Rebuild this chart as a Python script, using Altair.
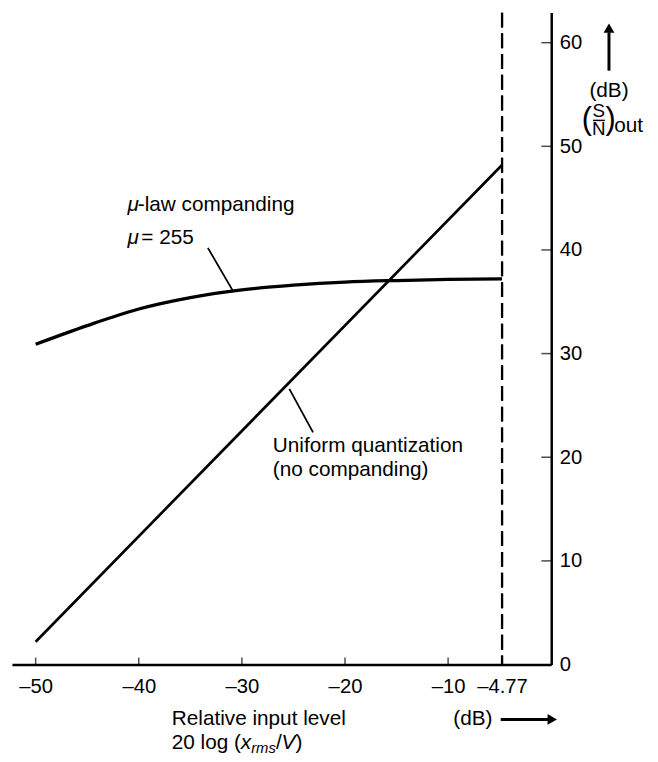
import altair as alt
import pandas as pd

# ---------------- data ----------------
x_tick_values = [-50, -40, -30, -20, -10, -4.77]
x_tick_marks = [-50, -40, -30, -20, -10]
y_tick_values = [0, 10, 20, 30, 40, 50, 60]
y_tick_marks = [10, 20, 30, 40, 50, 60]

uniform_x = [-50, -4.77]
uniform_y = [2.2, 48.2]

mulaw_x = [-50, -45, -40, -35, -30, -25, -20, -15, -10, -4.77]
mulaw_y = [30.9, 32.7, 34.3, 35.4, 36.15, 36.6, 36.9, 37.05, 37.15, 37.2]

peak_level = -4.77

X_DOMAIN = [-52.3, 0]
Y_DOMAIN = [0, 62.9]

FONT = "Liberation Sans"
FS = 20.5   # tick labels
TS = 21     # annotation text

# ---------------- scales / axes ----------------
xs = alt.Scale(domain=X_DOMAIN, nice=False, zero=False)
ys = alt.Scale(domain=Y_DOMAIN, nice=False, zero=False)

x_axis = alt.Axis(
    values=x_tick_values, ticks=False, grid=False, title=None,
    domain=True, domainColor="black", domainWidth=2.5,
    labelFont=FONT, labelFontSize=FS, labelColor="black", labelPadding=12,
    labelFlush=False, labelOverlap=False,
    labelExpr="datum.value < 0 ? '\u2013' + format(-datum.value, '.3~f') : format(datum.value, '.3~f')",
)
y_axis = alt.Axis(
    orient="right", values=y_tick_values, ticks=False, grid=False, title=None,
    domain=True, domainColor="black", domainWidth=2.5,
    labelFont=FONT, labelFontSize=FS, labelColor="black", labelPadding=8,
    labelFlush=False, labelOverlap=False,
)


def X(field=None, **kw):
    if field is None:
        return alt.X(scale=xs, axis=x_axis, **kw)
    return alt.X(field, scale=xs, axis=x_axis, **kw)


def Y(field=None, **kw):
    if field is None:
        return alt.Y(scale=ys, axis=y_axis, **kw)
    return alt.Y(field, scale=ys, axis=y_axis, **kw)


# ---------------- data frames ----------------
uni_df = pd.DataFrame({"x": uniform_x, "y": uniform_y})
mu_df = pd.DataFrame({"x": mulaw_x, "y": mulaw_y})
xt_df = pd.DataFrame({"x": x_tick_marks})
yt_df = pd.DataFrame({"y": y_tick_marks})

uniform_line = alt.Chart(uni_df).mark_line(color="black", strokeWidth=2.7).encode(
    x=X("x:Q"), y=Y("y:Q"))

mulaw_line = alt.Chart(mu_df).mark_line(
    color="black", strokeWidth=3.3, interpolate="monotone").encode(
    x=X("x:Q"), y=Y("y:Q"))

dashed = alt.Chart(uni_df).mark_rule(
    color="black", strokeWidth=2.2, strokeDash=[15, 6]).encode(
    x=X(datum=peak_level))

x_ticks = alt.Chart(xt_df).mark_tick(
    orient="vertical", color="black", thickness=1.5, size=7, yOffset=-3.5).encode(
    x=X("x:Q"), y=Y(datum=0))

y_ticks = alt.Chart(yt_df).mark_tick(
    orient="horizontal", color="black", thickness=1.5, size=10, xOffset=-5).encode(
    y=Y("y:Q"), x=X(datum=0))


def text_layer(rows, **kw):
    df = pd.DataFrame(rows, columns=["t", "x", "y"])
    props = dict(font=FONT, fontSize=TS, color="black", align="left", baseline="middle")
    props.update(kw)
    return alt.Chart(df).mark_text(**props).encode(
        x=X("x:Q"), y=Y("y:Q"), text="t:N")


def seg_layer(rows, width=1.8):
    df = pd.DataFrame(rows, columns=["x", "y", "x2", "y2"])
    return alt.Chart(df).mark_rule(color="black", strokeWidth=width).encode(
        x=X("x:Q"), y=Y("y:Q"), x2="x2:Q", y2="y2:Q")


# annotations (anchored in data units)
mu_label = text_layer([["-law companding", -40.1, 44.3]])
mu_sym = text_layer([["\u03bc", -41.1, 44.3], ["\u03bc", -41.1, 41.1]], fontStyle="italic")
mu_val = text_layer([["= 255", -39.75, 41.1]])
mu_leader = seg_layer([[-33.3, 40.2, -30.9, 36.1]])

uni_label = text_layer([["Uniform quantization", -27.0, 21.1],
                        ["(no companding)", -27.0, 18.8]])
uni_leader = seg_layer([[-25.4, 26.6, -23.1, 22.4]])

# x-axis title
XT_Y1, XT_Y2 = -5.3, -7.6
xt1 = text_layer([["Relative input level", -36.8, XT_Y1],
                  ["20 log (", -36.8, XT_Y2]])
xt_x = text_layer([["x", -30.1, XT_Y2]], fontStyle="italic")
xt_rms = text_layer([["rms", -29.1, XT_Y2 - 0.5]], fontStyle="italic", fontSize=15)
xt_slash = text_layer([["/", -26.7, XT_Y2]])
xt_V = text_layer([["V", -26.15, XT_Y2]], fontStyle="italic")
xt_close = text_layer([[")", -24.8, XT_Y2]])

x_db = text_layer([["(dB)", -9.5, XT_Y1]])
x_arrow_shaft = seg_layer([[-4.9, XT_Y1, -0.2, XT_Y1]], width=3)
x_arrow_head = alt.Chart(pd.DataFrame({"x": [0.1], "y": [XT_Y1]})).mark_point(
    shape="triangle-right", filled=True, color="black", size=120, opacity=1).encode(
    x=X("x:Q"), y=Y("y:Q"))

# y-axis title (top right)
y_arrow_shaft = seg_layer([[5.6, 57.3, 5.6, 61.0]], width=3)
y_arrow_head = alt.Chart(pd.DataFrame({"x": [5.6], "y": [61.4]})).mark_point(
    shape="triangle-up", filled=True, color="black", size=120, opacity=1).encode(
    x=X("x:Q"), y=Y("y:Q"))
y_db = text_layer([["(dB)", 5.6, 55.3]], align="center")
y_paren_l = text_layer([["(", 3.45, 52.55]], align="center", fontSize=31)
y_paren_r = text_layer([[")", 5.75, 52.55]], align="center", fontSize=31)
y_S = text_layer([["S", 4.6, 53.4]], align="center", fontSize=19)
y_N = text_layer([["N", 4.6, 51.65]], align="center", fontSize=19)
y_bar = seg_layer([[4.05, 52.5, 5.2, 52.5]], width=1.5)
y_out = text_layer([["out", 6.1, 52.0]])

chart = alt.layer(
    dashed, uniform_line, mulaw_line, x_ticks, y_ticks,
    mu_label, mu_sym, mu_val, mu_leader, uni_label, uni_leader,
    xt1, xt_x, xt_rms, xt_slash, xt_V, xt_close,
    x_db, x_arrow_shaft, x_arrow_head,
    y_arrow_shaft, y_arrow_head, y_db, y_paren_l, y_paren_r, y_S, y_N, y_bar, y_out,
).properties(
    width=546, height=660,
    autosize=alt.AutoSizeParams(type="none"),
    padding={"left": 4, "top": 0, "right": 100, "bottom": 92},
    background="white",
).configure_view(stroke=None)

chart.save("out.html", embed_options={"renderer": "svg", "actions": False})
